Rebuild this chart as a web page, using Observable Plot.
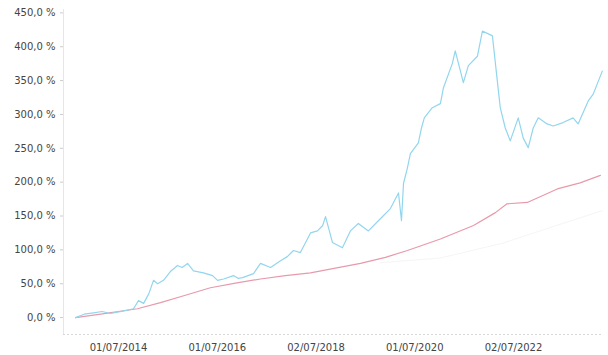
<!DOCTYPE html>
<html><head><meta charset="utf-8">
<script src="https://cdn.jsdelivr.net/npm/d3@7"></script>
<script src="https://cdn.jsdelivr.net/npm/@observablehq/plot@0.6"></script>
<style>body{margin:0;background:#fff;font-family:"DejaVu Sans",sans-serif}</style>
</head><body><div id="chart"></div>
<script>
const fundDates = ["2013-08-17","2013-10-20","2013-12-29","2014-03-01","2014-05-03","2014-08-10","2014-10-20","2014-11-26","2015-01-03","2015-02-10","2015-03-17","2015-04-16","2015-05-30","2015-07-20","2015-09-11","2015-10-15","2015-11-24","2016-01-07","2016-03-21","2016-05-27","2016-07-03","2016-08-17","2016-10-29","2016-12-01","2017-01-04","2017-03-26","2017-05-17","2017-07-30","2017-10-12","2017-12-01","2018-01-16","2018-03-08","2018-05-22","2018-07-12","2018-08-20","2018-09-10","2018-10-31","2019-01-13","2019-03-13","2019-05-11","2019-07-24","2019-10-21","2020-01-03","2020-03-03","2020-03-25","2020-04-09","2020-05-08","2020-05-30","2020-07-28","2020-08-20","2020-09-10","2020-11-08","2021-01-07","2021-01-29","2021-04-05","2021-04-27","2021-06-26","2021-08-02","2021-10-08","2021-11-14","2021-12-28","2022-01-27","2022-03-04","2022-03-26","2022-05-02","2022-06-08","2022-08-06","2022-09-12","2022-10-19","2022-11-25","2023-01-01","2023-03-08","2023-04-22","2023-07-04","2023-09-16","2023-10-23","2024-01-06","2024-02-12","2024-04-19"];
const fundValues = [0,5,7,9,6,10,13,25,21,35,55,50,55,68,77,74,80,69,66,62,55,57,62,58,59,65,80,74,84,90,99,96,125,128,136,149,111,103,128,139,128,146,161,184,143,198,221,242,258,280,295,310,316,339,375,394,347,372,386,423,419,416,350,310,280,261,295,265,251,280,295,286,283,288,295,286,320,330,364];

const benchDates = ["2013-08-17","2014-02-19","2014-11-18","2015-05-08","2015-11-08","2016-05-11","2016-11-13","2017-05-17","2017-11-17","2018-05-22","2018-11-22","2019-05-27","2019-11-27","2020-05-08","2021-01-07","2021-09-09","2022-02-18","2022-05-15","2022-10-12","2023-05-22","2023-11-07","2024-04-05"];
const benchValues = [0,5,13,22,33,44,51,57,62,66,73,80,89,99,116,136,155,168,170,190,199,210];

const ghostDates = ["2019-10-21","2021-01-07","2022-04-15","2023-05-01","2024-04-19"];
const ghostValues = [81,88,110,135,158];

const yTicks = [0,50,100,150,200,250,300,350,400,450];
const xTicks = ["2014-07-01","2016-07-01","2018-07-02","2020-07-01","2022-07-02"];

const toRows = (ds, vs) => ds.map((d, i) => ({date: new Date(d), value: vs[i]}));
const fund = toRows(fundDates, fundValues);
const bench = toRows(benchDates, benchValues);
const ghost = toRows(ghostDates, ghostValues);

const fmtPct = v => d3.format(".1f")(v).replace(".", ",") + " %";

const chart = Plot.plot({
  width: 608, height: 355,
  marginLeft: 63, marginRight: 5, marginTop: 9, marginBottom: 21,
  style: {fontFamily: "DejaVu Sans, sans-serif", fontSize: "10px", color: "#444", background: "#fff"},
  x: {type: "utc", domain: [new Date("2013-05-20"), new Date("2024-04-28")], ticks: xTicks.map(d => new Date(d)), tickFormat: d3.utcFormat("%d/%m/%Y"), tickSize: 0, tickPadding: 9, label: null},
  y: {domain: [-25, 455], ticks: yTicks, tickFormat: fmtPct, tickSize: 3, tickPadding: 5, label: null},
  marks: [
    Plot.ruleX([new Date("2013-05-20")], {stroke: "#e6e6e6"}),
    Plot.ruleY([-25], {stroke: "#d8d8d8", strokeDasharray: "2,2"}),
    Plot.line(ghost, {x: "date", y: "value", stroke: "#f5f5f5", strokeWidth: 1}),
    Plot.line(bench, {x: "date", y: "value", stroke: "#e79aab", strokeWidth: 1.2}),
    Plot.line(fund, {x: "date", y: "value", stroke: "#92d6ee", strokeWidth: 1.2})
  ]
});
chart.querySelectorAll("[aria-label='y-axis tick'] path, [aria-label='y-axis tick']").forEach(e => e.setAttribute("stroke", "#ccc"));
document.getElementById("chart").appendChild(chart);
</script>
</body></html>
